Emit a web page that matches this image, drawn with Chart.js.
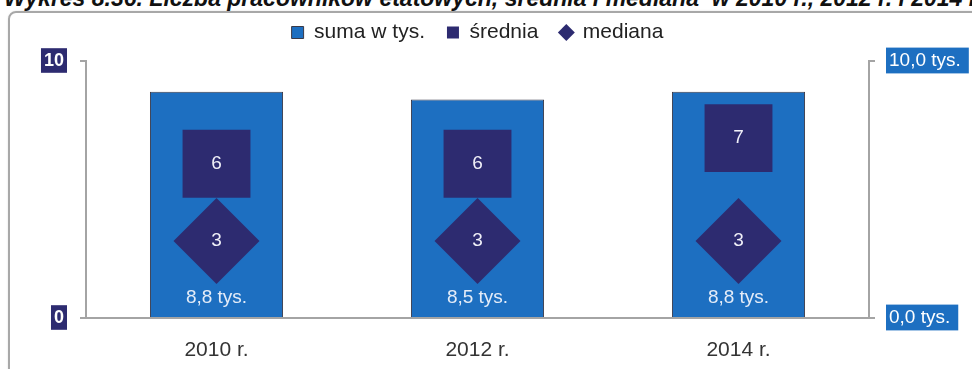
<!DOCTYPE html>
<html>
<head>
<meta charset="utf-8">
<script src="https://cdn.jsdelivr.net/npm/chart.js@4/dist/chart.umd.min.js"></script>
<style>
  html, body { margin: 0; padding: 0; background: #fff; }
  #wrap { position: relative; width: 972px; height: 369px; overflow: hidden; }
  #frame { position: absolute; left: 8px; top: 11px; width: 1000px; height: 420px;
           border: 2px solid #a8a8a8; border-radius: 8px; box-shadow: 1px 1px 3px rgba(0,0,0,0.25); }
  #title { position: absolute; left: 4px; top: -15px; font: italic bold 23px "Liberation Sans", Arial, sans-serif;
           white-space: nowrap; color: #111; }
  canvas { position: absolute; left: 0; top: 0; }
</style>
</head>
<body>
<div id="wrap">
  <div id="frame"></div>
  <div id="title">Wykres 8.36. Liczba pracowników etatowych, średnia i mediana&nbsp; w 2010 r., 2012 r. i 2014 r.</div>
  <canvas id="chart" width="972" height="369"></canvas>
</div>
<script>
const categories = ["2010 r.", "2012 r.", "2014 r."];
const sumaTys = [8.8, 8.5, 8.8];
const srednia = [6, 6, 7];
const mediana = [3, 3, 3];

const BLUE = "#1d6fc1";
const NAVY = "#2d2b70";
const SANS = "'Liberation Sans', Arial, sans-serif";

function plNum(v) {
    return v.toFixed(1).replace(".", ",");
}

// numbers drawn inside the bars and markers
const valueLabels = {
    id: "valueLabels",
    afterDatasetsDraw(chart) {
        const ctx = chart.ctx;
        ctx.save();
        ctx.textAlign = "center";
        ctx.textBaseline = "middle";
        ctx.font = "19px " + SANS;
        chart.data.datasets.forEach((ds, i) => {
            const meta = chart.getDatasetMeta(i);
            meta.data.forEach((el, j) => {
                if (meta.type === "bar") {
                    ctx.fillStyle = "#e4ecf8";
                    ctx.fillText(plNum(ds.data[j]) + " tys.", el.x, el.base - 19);
                } else {
                    ctx.fillStyle = "#f0f0f8";
                    ctx.fillText(String(ds.data[j]), el.x, el.y);
                }
            });
        });
        ctx.restore();
    }
};

const axisGrey = "#a4a4a4";

new Chart(document.getElementById("chart").getContext("2d"), {
    data: {
        labels: categories,
        datasets: [
            {
                type: "bar",
                label: "suma w tys.",
                data: sumaTys,
                yAxisID: "y2",
                backgroundColor: BLUE,
                borderColor: "#3a3a48",
                borderWidth: 1,
                barPercentage: 0.51,
                categoryPercentage: 1,
                pointStyle: "rect",
                order: 2
            },
            {
                type: "line",
                label: "średnia",
                data: srednia,
                yAxisID: "y",
                showLine: false,
                pointStyle: "rect",
                pointRadius: 48,
                pointHoverRadius: 48,
                backgroundColor: NAVY,
                borderColor: NAVY,
                borderWidth: 0,
                order: 1
            },
            {
                type: "line",
                label: "mediana",
                data: mediana,
                yAxisID: "y",
                showLine: false,
                pointStyle: "rectRot",
                pointRadius: 43,
                pointHoverRadius: 43,
                backgroundColor: NAVY,
                borderColor: NAVY,
                borderWidth: 0,
                order: 0
            }
        ]
    },
    options: {
        responsive: false,
        animation: false,
        layout: {padding: 0},
        plugins: {
            tooltip: {enabled: false},
            legend: {
                position: "top",
                fullSize: false,
                labels: {
                    usePointStyle: true,
                    boxWidth: 12,
                    boxHeight: 12,
                    padding: 22,
                    color: "#222",
                    font: {family: SANS, size: 21},
                    sort: (a, b) => a.datasetIndex - b.datasetIndex
                }
            },
            // empty spacer between legend and plot
            subtitle: {
                display: true,
                text: "",
                weight: 500,
                font: {size: 1, lineHeight: 1},
                padding: {top: 0, bottom: 7}
            }
        },
        scales: {
            x: {
                grid: {display: false},
                border: {display: true, color: axisGrey, width: 2},
                ticks: {color: "#333", padding: 12, font: {family: SANS, size: 21}},
                afterFit: s => { s.height = 51; }
            },
            y: {
                position: "left",
                min: 0,
                max: 10,
                ticks: {
                    stepSize: 10,
                    color: "#fff",
                    padding: 16,
                    font: {family: SANS, size: 18, weight: "bold"},
                    showLabelBackdrop: true,
                    backdropColor: NAVY,
                    backdropPadding: {top: 2, bottom: 1, left: 3, right: 3}
                },
                grid: {drawOnChartArea: false, drawTicks: true, tickLength: 6, color: axisGrey, lineWidth: 2},
                border: {display: true, color: axisGrey, width: 2},
                afterFit: s => { s.width = 86; }
            },
            y2: {
                position: "right",
                min: 0,
                max: 10,
                ticks: {
                    stepSize: 10,
                    color: "#fff",
                    padding: 14,
                    font: {family: SANS, size: 19},
                    callback: v => plNum(v) + " tys.",
                    showLabelBackdrop: true,
                    backdropColor: BLUE,
                    backdropPadding: {top: 2, bottom: 1, left: 3, right: 8}
                },
                grid: {drawOnChartArea: false, drawTicks: true, tickLength: 6, color: axisGrey, lineWidth: 2},
                border: {display: true, color: axisGrey, width: 2},
                afterFit: s => { s.width = 103; }
            }
        }
    },
    plugins: [valueLabels]
});
</script>
</body>
</html>
